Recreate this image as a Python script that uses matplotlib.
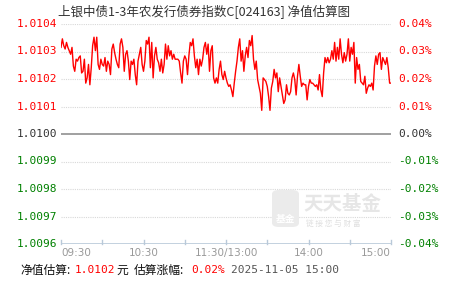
import matplotlib
matplotlib.use("Agg")
import matplotlib.pyplot as plt
from matplotlib.patches import FancyBboxPatch

# ---------------- data ----------------
fund_title = "上银中债1-3年农发行债券指数C[024163] 净值估算图"
base_nav = 1.0100

# estimated change (%) per minute, 09:30 .. 11:30/13:00 .. 15:00
pct_change = [
    0.0315, 0.0346, 0.0321, 0.0309, 0.0333, 0.0315, 0.0303, 0.0290, 0.0315, 0.0247,
    0.0228, 0.0272, 0.0265, 0.0278, 0.0284, 0.0222, 0.0228, 0.0272, 0.0185, 0.0204,
    0.0253, 0.0179, 0.0241, 0.0321, 0.0352, 0.0303, 0.0352, 0.0253, 0.0235, 0.0272,
    0.0253, 0.0247, 0.0278, 0.0228, 0.0265, 0.0253, 0.0216, 0.0309, 0.0327, 0.0296,
    0.0272, 0.0253, 0.0241, 0.0327, 0.0346, 0.0315, 0.0228, 0.0290, 0.0303, 0.0265,
    0.0198, 0.0265, 0.0253, 0.0272, 0.0216, 0.0179, 0.0265, 0.0290, 0.0315, 0.0253,
    0.0228, 0.0265, 0.0340, 0.0327, 0.0352, 0.0241, 0.0333, 0.0204, 0.0284, 0.0315,
    0.0272, 0.0259, 0.0228, 0.0272, 0.0222, 0.0253, 0.0327, 0.0272, 0.0321, 0.0284,
    0.0303, 0.0272, 0.0290, 0.0272, 0.0272, 0.0272, 0.0265, 0.0222, 0.0185, 0.0265,
    0.0284, 0.0272, 0.0216, 0.0284, 0.0333, 0.0321, 0.0346, 0.0284, 0.0241, 0.0272,
    0.0216, 0.0272, 0.0247, 0.0272, 0.0315, 0.0333, 0.0290, 0.0327, 0.0228, 0.0303,
    0.0321, 0.0204, 0.0185, 0.0204, 0.0185, 0.0235, 0.0265, 0.0216, 0.0198, 0.0228,
    0.0204, 0.0185, 0.0173, 0.0179, 0.0160, 0.0136, 0.0185, 0.0228, 0.0265, 0.0315,
    0.0346, 0.0265, 0.0303, 0.0228, 0.0284, 0.0315, 0.0278, 0.0340, 0.0321, 0.0358,
    0.0272, 0.0235, 0.0265, 0.0198, 0.0173, 0.0148, 0.0086, 0.0204, 0.0198, 0.0191,
    0.0173, 0.0136, 0.0086, 0.0167, 0.0191, 0.0235, 0.0204, 0.0222, 0.0154, 0.0204,
    0.0173, 0.0142, 0.0111, 0.0124, 0.0179, 0.0148, 0.0142, 0.0154, 0.0204, 0.0222,
    0.0198, 0.0142, 0.0210, 0.0253, 0.0210, 0.0173, 0.0185, 0.0179, 0.0179, 0.0124,
    0.0173, 0.0198, 0.0185, 0.0185, 0.0179, 0.0173, 0.0179, 0.0160, 0.0216, 0.0160,
    0.0136, 0.0222, 0.0278, 0.0259, 0.0278, 0.0259, 0.0272, 0.0303, 0.0272, 0.0333,
    0.0265, 0.0315, 0.0272, 0.0346, 0.0290, 0.0259, 0.0296, 0.0265, 0.0290, 0.0346,
    0.0265, 0.0315, 0.0290, 0.0333, 0.0185, 0.0278, 0.0235, 0.0253, 0.0191, 0.0185,
    0.0179, 0.0210, 0.0148, 0.0167, 0.0179, 0.0173, 0.0185, 0.0160, 0.0247, 0.0284,
    0.0253, 0.0290, 0.0296, 0.0235, 0.0278, 0.0265, 0.0253, 0.0278, 0.0241, 0.0185,
    0.0185,
]

x_tick_minutes = [0, 60, 120, 180, 240]
x_tick_labels = ["09:30", "10:30", "11:30/13:00", "14:00", "15:00"]
y_ticks = [-0.04, -0.03, -0.02, -0.01, 0.0, 0.01, 0.02, 0.03, 0.04]
left_labels = ["1.0096", "1.0097", "1.0098", "1.0099", "1.0100",
               "1.0101", "1.0102", "1.0103", "1.0104"]
right_labels = ["-0.04%", "-0.03%", "-0.02%", "-0.01%", "0.00%",
                "0.01%", "0.02%", "0.03%", "0.04%"]

nav_now = "1.0102"
pct_now = "0.02%"
stamp = "2025-11-05 15:00"

RED = "#ff0000"
GREEN = "#008000"
DARK = "#333333"
MONO = ["DejaVu Sans Mono"]
CJK = ["Noto Sans CJK SC", "DejaVu Sans"]

W, H = 451, 281
fig = plt.figure(figsize=(W / 100, H / 100), dpi=100)
fig.patch.set_facecolor("white")

x0, x1 = 61, 391
y0, y1 = 24, 244
ax = fig.add_axes([x0 / W, 1 - y1 / H, (x1 - x0) / W, (y1 - y0) / H])
ax.set_xlim(0, 240)
ax.set_ylim(-0.04, 0.04)
for s in ax.spines.values():
    s.set_visible(False)

# grid
for v in y_ticks:
    if v == 0.0:
        ax.axhline(v, color="#999999", lw=1.3, zorder=2)
    elif v == -0.04:
        ax.axhline(v, color="#b9c9d9", lw=1.2, zorder=2)
    else:
        ax.axhline(v, color="#d8d8d8", lw=0.8, ls=(0, (1, 1)), zorder=1)

# bottom ticks every half hour
for m in range(0, 241, 30):
    ax.plot([m, m], [-0.04, -0.0385], color="#b9c9d9", lw=1, clip_on=False, zorder=2)

ax.set_xticks([])
ax.set_yticks([])

# watermark
logo = FancyBboxPatch((272 / W, 1 - 227 / H), 27 / W, 37 / H,
                      boxstyle="round,pad=0,rounding_size=0.015",
                      transform=fig.transFigure, fc="#ebebeb", ec="none", zorder=0)
fig.patches.append(logo)
fig.text(285.5 / W, 1 - 219 / H, "基金", family=CJK, fontsize=7, color="white",
         ha="center", va="center", fontweight="bold")
fig.text(303 / W, 1 - 205 / H, "天天基金", family=CJK, fontsize=14, color="#e6e6e6",
         ha="left", va="center", fontweight="bold")
fig.text(306 / W, 1 - 224 / H, "链 接 您 与 财 富", family=CJK, fontsize=5.5,
         color="#e0e0e0", ha="left", va="center")

ax.plot(range(len(pct_change)), pct_change, color=RED, lw=1, zorder=3)

# y labels
for v, ll, rl in zip(y_ticks, left_labels, right_labels):
    c = RED if v > 0 else (GREEN if v < 0 else DARK)
    ax.text(-4 / 330 * 240, v, ll, color=c, family=MONO, fontsize=8,
            ha="right", va="center")
    ax.text(244 + 1, v, rl, color=c, family=MONO, fontsize=8,
            ha="left", va="center")

# x labels
for m, lab in zip(x_tick_minutes, x_tick_labels):
    ha = "left" if m == 0 else ("right" if m == 240 else "center")
    ax.text(m, -0.0415, lab, color="#999999", fontsize=7.5, ha=ha, va="top",
            family=["DejaVu Sans"])

# title
fig.text(58 / W, 1 - 12 / H, fund_title, family=CJK, fontsize=9, color=DARK,
         ha="left", va="center")

# bottom summary
yb = 1 - 270 / H
fig.text(20 / W, yb, "净值估算:", family=CJK, fontsize=8.5, color="#111111", va="center")
fig.text(75 / W, yb, nav_now, family=MONO, fontsize=8, color=RED, va="center")
fig.text(116 / W, yb, "元", family=CJK, fontsize=8.5, color="#111111", va="center")
fig.text(134 / W, yb, "估算涨幅:", family=CJK, fontsize=8.5, color="#111111", va="center")
fig.text(191 / W, yb, pct_now, family=MONO, fontsize=8, color=RED, va="center")
fig.text(231 / W, yb, stamp, family=MONO, fontsize=8, color="#555555", va="center")

fig.savefig("out.png", dpi=100)
